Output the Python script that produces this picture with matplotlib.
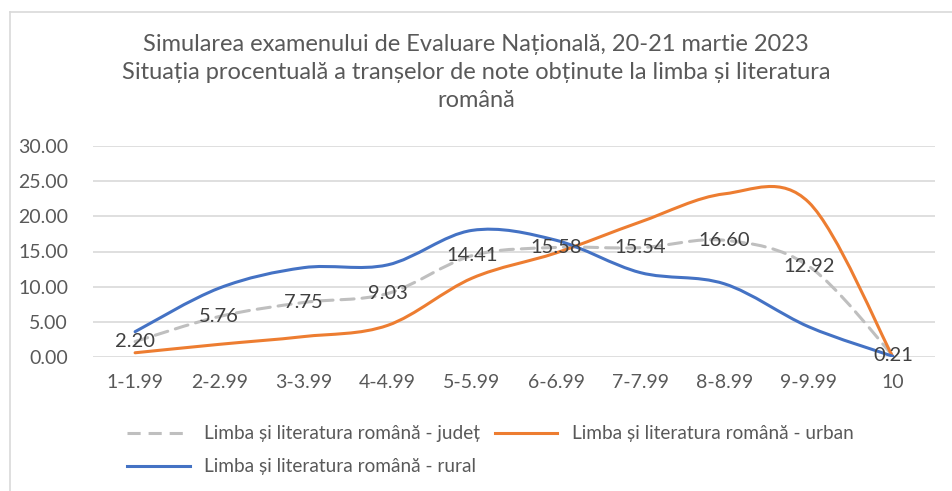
import matplotlib
matplotlib.use("agg")
import matplotlib.pyplot as plt
from matplotlib.path import Path
from matplotlib.patches import PathPatch
from matplotlib.lines import Line2D
import numpy as np

plt.rcParams['font.family'] = ['Lato', 'DejaVu Sans']

categories = ['1-1.99', '2-2.99', '3-3.99', '4-4.99', '5-5.99',
              '6-6.99', '7-7.99', '8-8.99', '9-9.99', '10']
judet = [2.20, 5.76, 7.75, 9.03, 14.41, 15.58, 15.54, 16.60, 12.92, 0.21]
urban = [0.6, 1.8, 2.9, 4.5, 11.2, 14.8, 19.2, 23.2, 22.0, 0.0]
rural = [3.6, 9.8, 12.7, 13.1, 18.0, 16.6, 12.0, 10.4, 4.3, 0.1]

title = ("Simularea examenului de Evaluare Națională, 20-21 martie 2023\n"
         "Situația procentuală a tranșelor de note obținute la limba și literatura\n"
         "română")
names = ["Limba și literatura română - județ",
         "Limba și literatura română - urban",
         "Limba și literatura română - rural"]

txt = '#595959'
dash = (0, (4.3, 2.6))
W, H = 952, 491
fig = plt.figure(figsize=(W / 100, H / 100), dpi=100)
ax = fig.add_axes([93 / W, 1 - 357 / H, (935 - 93) / W, (357 - 146) / H])


def smooth(ax, ys, **kw):
    # excel-like smoothed line (catmull-rom as cubic bezier)
    x = np.arange(len(ys), dtype=float)
    y = np.array(ys, dtype=float)
    pts = np.column_stack([x, y])
    verts = [pts[0]]
    codes = [Path.MOVETO]
    n = len(pts)
    for i in range(n - 1):
        p0 = pts[max(i - 1, 0)]
        p1 = pts[i]
        p2 = pts[i + 1]
        p3 = pts[min(i + 2, n - 1)]
        c1 = p1 + (p2 - p0) / 6
        c2 = p2 - (p3 - p1) / 6
        verts += [c1, c2, p2]
        codes += [Path.CURVE4] * 3
    patch = PathPatch(Path(verts, codes), fill=False, capstyle='round', **kw)
    ax.add_patch(patch)


smooth(ax, judet, edgecolor='#BFBFBF', lw=2.2, linestyle=dash, zorder=3)
smooth(ax, urban, edgecolor='#ED7D31', lw=2.2, zorder=4)
smooth(ax, rural, edgecolor='#4472C4', lw=2.2, zorder=5)

for i, v in enumerate(judet):
    ax.text(i, v, f"{v:.2f}", ha='center', va='center', fontsize=14.5,
            color='#404040', zorder=6)

ax.set_xlim(-0.5, len(categories) - 0.5)
ax.set_ylim(0, 30)
ax.set_yticks(np.arange(0, 31, 5))
ax.set_yticklabels([f"{t:.2f}" for t in np.arange(0, 31, 5)])
ax.set_xticks(range(len(categories)))
ax.set_xticklabels(categories)
ax.tick_params(length=0, labelsize=14, colors=txt)
ax.tick_params(axis='y', pad=18)
ax.tick_params(axis='x', pad=12)
ax.grid(axis='y', color='#D9D9D9', lw=1.2)
ax.set_axisbelow(True)
for s in ax.spines.values():
    s.set_visible(False)

fig.text(0.5, 1 - 34 / H, title, ha='center', va='top', fontsize=17,
         color=txt, linespacing=1.4)

handles = [Line2D([], [], color='#BFBFBF', lw=2.2, linestyle=dash),
           Line2D([], [], color='#4472C4', lw=2.2),
           Line2D([], [], color='#ED7D31', lw=2.2)]
labels = [names[0], names[2], names[1]]
fig.legend(handles, labels, ncol=2, loc='upper left',
           bbox_to_anchor=(114 / W, 1 - 412 / H), frameon=False,
           fontsize=13.7, labelcolor=txt, handlelength=3.3,
           handletextpad=0.75, columnspacing=0.75, labelspacing=0.85,
           borderpad=0.2)

# chart border
fig.add_artist(Line2D([10 / W, 1], [1 - 12 / H, 1 - 12 / H], color='#D9D9D9', lw=1.2))
fig.add_artist(Line2D([10 / W, 10 / W], [0, 1 - 12 / H], color='#D9D9D9', lw=1.2))

fig.savefig('out.png', dpi=100)
